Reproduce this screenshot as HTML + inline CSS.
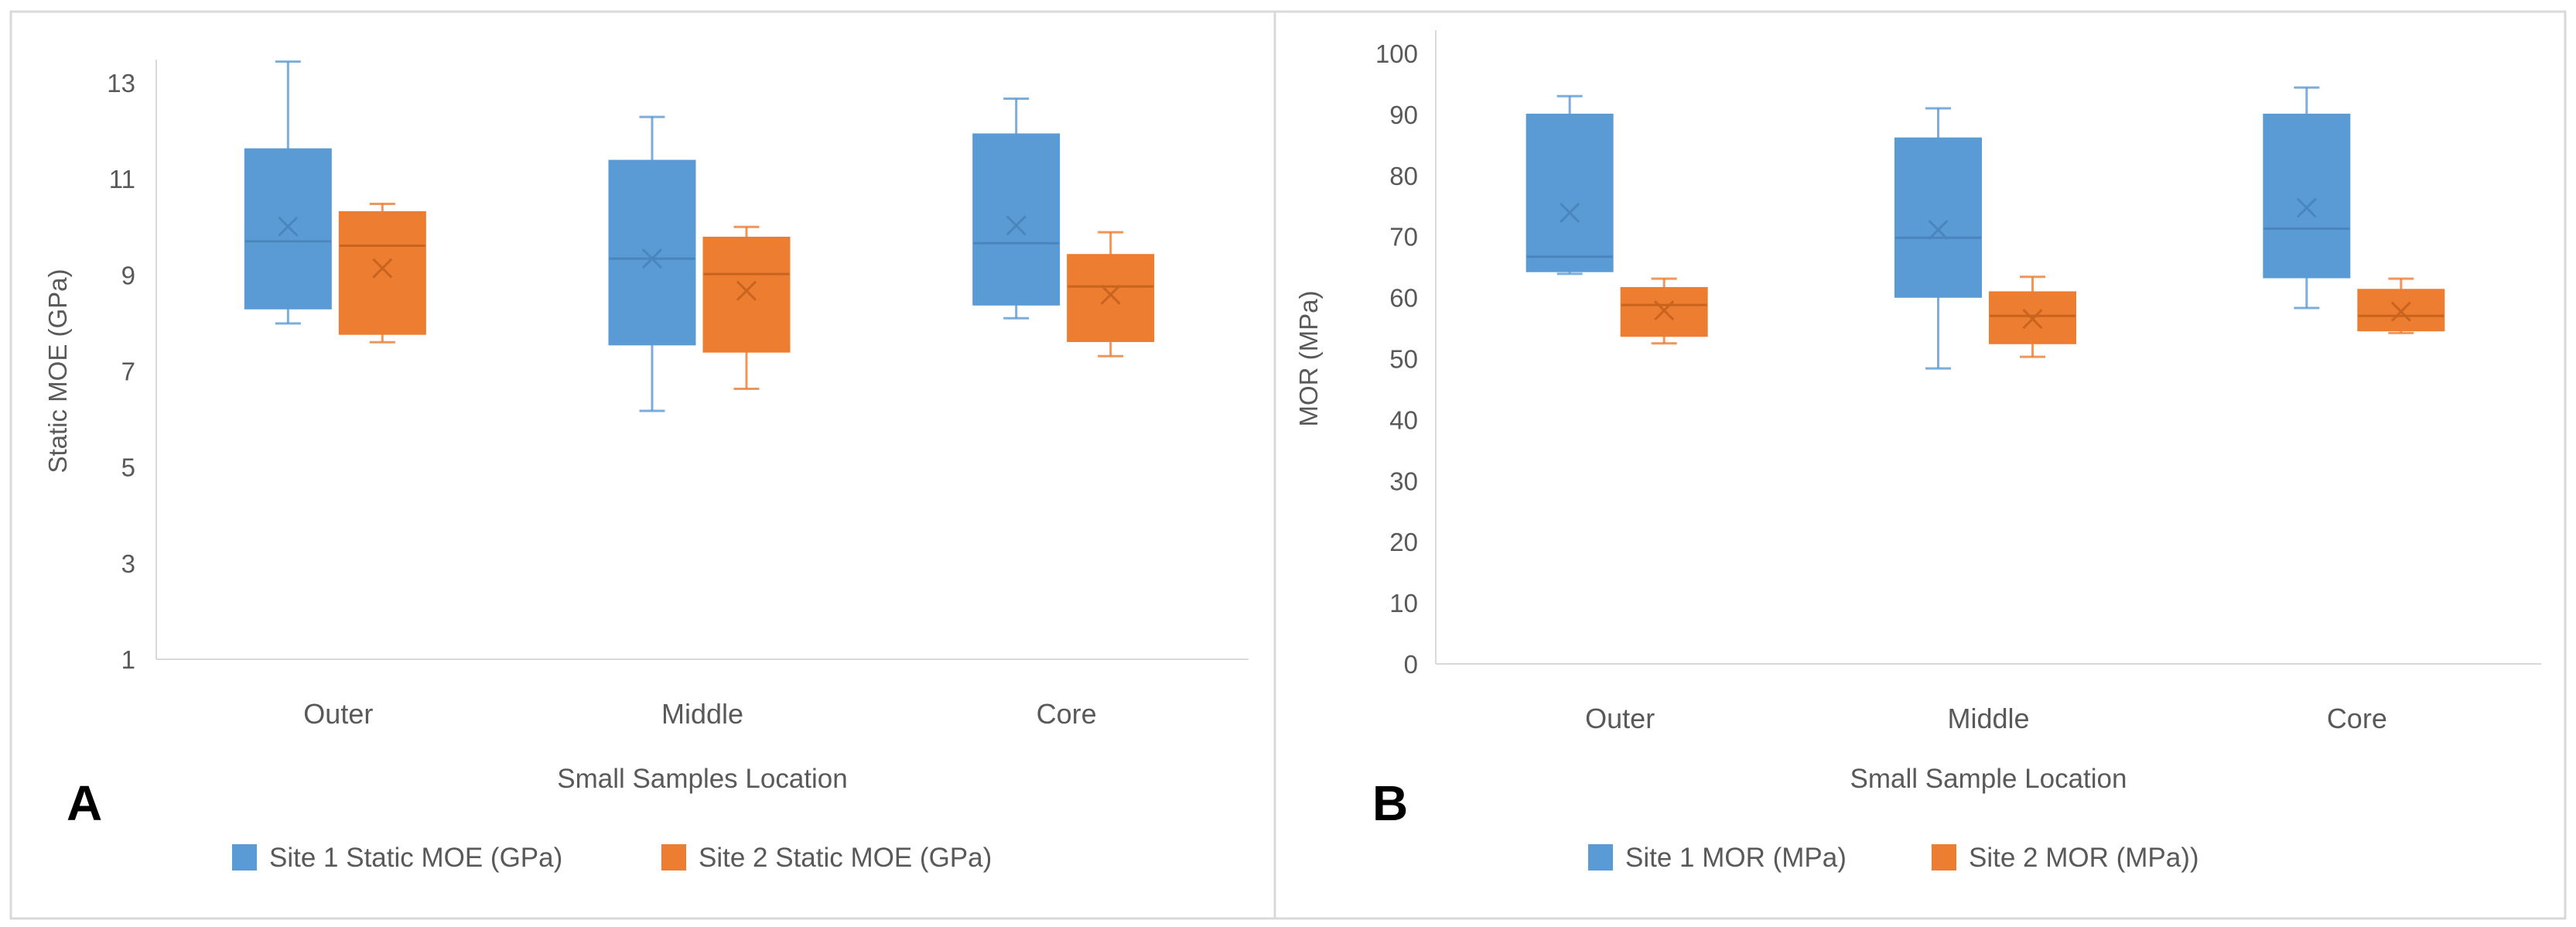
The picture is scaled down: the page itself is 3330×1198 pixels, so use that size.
<!DOCTYPE html>
<html><head><meta charset="utf-8"><style>
html,body{margin:0;padding:0;background:#fff;}
svg{display:block;font-family:"Liberation Sans",sans-serif;}
</style></head><body>
<svg id="fig" width="3330" height="1198" viewBox="0 0 3330 1198" xmlns="http://www.w3.org/2000/svg">
<rect x="14" y="15" width="3302" height="1172" fill="#fff" stroke="#d9d9d9" stroke-width="3"/>
<line x1="1648" y1="15" x2="1648" y2="1187" stroke="#d9d9d9" stroke-width="3"/>
<g id="panelA"></g>
<g id="panelB"></g>
</svg>
<script>
const categories = ["Outer", "Middle", "Core"];
// Panel A: Static MOE (GPa)
const aTicks = [1, 3, 5, 7, 9, 11, 13];
const aS1Min = [7.99, 6.17, 8.10];
const aS1Q1 = [8.30, 7.55, 8.38];
const aS1Med = [9.70, 9.34, 9.66];
const aS1Q3 = [11.62, 11.38, 11.93];
const aS1Max = [13.44, 12.29, 12.67];
const aS1Mean = [10.01, 9.34, 10.03];
const aS2Min = [7.60, 6.63, 7.31];
const aS2Q1 = [7.77, 7.40, 7.62];
const aS2Med = [9.61, 9.02, 8.76];
const aS2Q3 = [10.31, 9.78, 9.42];
const aS2Max = [10.48, 10.00, 9.89];
const aS2Mean = [9.14, 8.67, 8.59];
// Panel B: MOR (MPa)
const bTicks = [0, 10, 20, 30, 40, 50, 60, 70, 80, 90, 100];
const bS1Min = [63.9, 48.4, 58.3];
const bS1Q1 = [64.3, 60.1, 63.3];
const bS1Med = [66.7, 69.8, 71.3];
const bS1Q3 = [90.0, 86.1, 90.0];
const bS1Max = [93.0, 91.0, 94.4];
const bS1Mean = [73.9, 71.1, 74.7];
const bS2Min = [52.5, 50.3, 54.2];
const bS2Q1 = [53.7, 52.5, 54.6];
const bS2Med = [58.8, 57.0, 57.0];
const bS2Q3 = [61.6, 60.9, 61.3];
const bS2Max = [63.1, 63.4, 63.1];
const bS2Mean = [57.9, 56.5, 57.7];

const NS = "http://www.w3.org/2000/svg";
function mk(parent, tag, attrs, text) {
  const e = document.createElementNS(NS, tag);
  for (const k in attrs) e.setAttribute(k, attrs[k]);
  if (text !== undefined) e.textContent = text;
  parent.appendChild(e);
  return e;
}
const BLUE = "#5B9BD5", ORANGE = "#ED7D31", TXT = "#595959";

function panel(g, cfg) {
  const y = v => cfg.y0 - (v - cfg.vmin) / (cfg.vmax - cfg.vmin) * (cfg.y0 - cfg.y1);
  const catW = (cfg.x1 - cfg.x0) / categories.length;
  const cx = i => cfg.x0 + catW * (i + 0.5);
  // axes
  const ya = mk(g, "line", {x1: cfg.x0, y1: cfg.y1 - 30, x2: cfg.x0, y2: cfg.y0, stroke: "#d9d9d9", "stroke-width": 2});
  
  
  const xa = mk(g, "line", {x1: cfg.x0, y1: cfg.y0, x2: cfg.x1, y2: cfg.y0, stroke: "#d9d9d9", "stroke-width": 2});
  
  
  cfg.ticks.forEach(t => {
    const tl = mk(g, "text", {x: cfg.tickX, y: y(t) + 12, "text-anchor": "end", "font-size": 33, fill: TXT}, String(t));
    
    
  });
  categories.forEach((c, i) => {
    const cl = mk(g, "text", {x: cx(i), y: cfg.y0 + 83, "text-anchor": "middle", "font-size": 36, fill: TXT}, c);
    
    
  });
  const yt = mk(g, "text", {x: 0, y: 0, transform: `translate(${cfg.ytX},${(cfg.y0 + cfg.y1) / 2}) rotate(-90)`, "text-anchor": "middle", "font-size": 33, fill: TXT}, cfg.yTitle);
  
  
  const xt = mk(g, "text", {x: (cfg.x0 + cfg.x1) / 2, y: 1018, "text-anchor": "middle", "font-size": 35, fill: TXT}, cfg.xTitle);
  
  
  const pl = mk(g, "text", {x: cfg.letterX, y: 1060, "font-size": 64, "font-weight": "bold", fill: "#000"}, cfg.letter);
  
  

  const series = [
    {d: cfg.s1, col: BLUE, med: "#4a86bd", off: -65, name: "site-1"},
    {d: cfg.s2, col: ORANGE, med: "#c9641f", off: 57, name: "site-2"}
  ];
  const bw = 111, cap = 33;
  series.forEach(s => {
    categories.forEach((c, i) => {
      const x = cx(i) + s.off;
      const grp = mk(g, "g", {});
      
      
      const [mn, q1, md, q3, mx, mean] = s.d.map(a => a[i]);
      mk(grp, "line", {x1: x, y1: y(mx), x2: x, y2: y(q3), stroke: s.col, "stroke-width": 3, opacity: 0.8});
      mk(grp, "line", {x1: x, y1: y(q1), x2: x, y2: y(mn), stroke: s.col, "stroke-width": 3, opacity: 0.8});
      mk(grp, "line", {x1: x - cap / 2, y1: y(mx), x2: x + cap / 2, y2: y(mx), stroke: s.col, "stroke-width": 3, opacity: 0.8});
      mk(grp, "line", {x1: x - cap / 2, y1: y(mn), x2: x + cap / 2, y2: y(mn), stroke: s.col, "stroke-width": 3, opacity: 0.8});
      mk(grp, "rect", {x: x - bw / 2, y: y(q3), width: bw, height: y(q1) - y(q3), fill: s.col, stroke: s.col, "stroke-width": 2});
      mk(grp, "line", {x1: x - bw / 2, y1: y(md), x2: x + bw / 2, y2: y(md), stroke: s.med, "stroke-width": 3});
      const my = y(mean), r = 12;
      mk(grp, "path", {d: `M${x - r},${my - r}L${x + r},${my + r}M${x - r},${my + r}L${x + r},${my - r}`, stroke: s.med, "stroke-width": 3, fill: "none"});
    });
  });
  // legend
  cfg.legend.forEach(L => {
    const lg = mk(g, "g", {});
    
    
    mk(lg, "rect", {x: L.sx, y: 1091, width: 32, height: 34, fill: L.col});
    mk(lg, "text", {x: L.tx, y: 1120, "font-size": 35, fill: TXT}, L.label);
  });
}

panel(document.getElementById("panelA"), {
  x0: 202, x1: 1614, y0: 852, y1: 107, vmin: 1, vmax: 13, ticks: aTicks, tickX: 175,
  ytX: 86, yTitle: "Static MOE (GPa)", xTitle: "Small Samples Location", letter: "A", letterX: 86,
  s1: [aS1Min, aS1Q1, aS1Med, aS1Q3, aS1Max, aS1Mean],
  s2: [aS2Min, aS2Q1, aS2Med, aS2Q3, aS2Max, aS2Mean],
  legend: [{sx: 300, tx: 348, col: BLUE, label: "Site 1 Static MOE (GPa)"},
           {sx: 855, tx: 903, col: ORANGE, label: "Site 2 Static MOE (GPa)"}]
});
panel(document.getElementById("panelB"), {
  x0: 1856, x1: 3285, y0: 858, y1: 69, vmin: 0, vmax: 100, ticks: bTicks, tickX: 1833,
  ytX: 1703, yTitle: "MOR (MPa)", xTitle: "Small Sample Location", letter: "B", letterX: 1774,
  s1: [bS1Min, bS1Q1, bS1Med, bS1Q3, bS1Max, bS1Mean],
  s2: [bS2Min, bS2Q1, bS2Med, bS2Q3, bS2Max, bS2Mean],
  legend: [{sx: 2053, tx: 2101, col: BLUE, label: "Site 1 MOR (MPa)"},
           {sx: 2497, tx: 2545, col: ORANGE, label: "Site 2 MOR (MPa))"}]
});
</script>
</body></html>
